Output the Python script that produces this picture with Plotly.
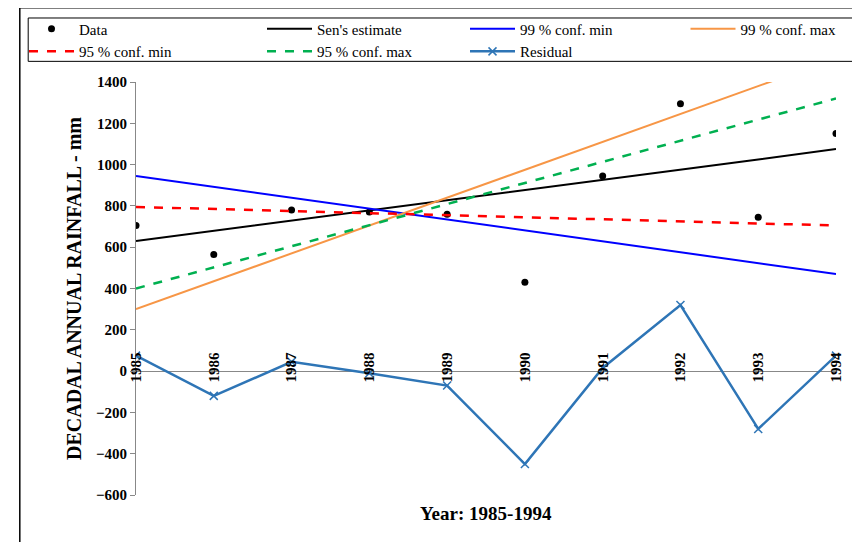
import plotly.graph_objects as go

years = list(range(1985, 1995))
data = [705, 565, 780, 770, 760, 430, 945, 1295, 745, 1150]
sen = [630, 679, 729, 778, 828, 877, 926, 976, 1025, 1075]
c99min = [945, 892, 839, 787, 734, 681, 628, 575, 523, 470]
c99max = [300, 435, 570, 705, 840, 975, 1110, 1245, 1380, 1515]
c95min = [795, 785, 775, 765, 755, 745, 735, 725, 715, 705]
c95max = [400, 502, 604, 707, 809, 911, 1013, 1116, 1218, 1320]
resid = [75, -120, 45, -10, -70, -450, 15, 320, -280, 75]

fig = go.Figure()
fig.add_trace(go.Scatter(x=years, y=data, mode="markers", name="Data", legend="legend",
                         marker=dict(color="black", size=7)))
fig.add_trace(go.Scatter(x=years, y=sen, mode="lines", name="Sen's estimate", legend="legend2",
                         line=dict(color="black", width=2)))
fig.add_trace(go.Scatter(x=years, y=c99min, mode="lines", name="99 % conf. min", legend="legend3",
                         line=dict(color="#0000ff", width=2)))
fig.add_trace(go.Scatter(x=years, y=c99max, mode="lines", name="99 % conf. max", legend="legend4",
                         line=dict(color="#f79646", width=2)))
fig.add_trace(go.Scatter(x=years, y=c95min, mode="lines", name="95 % conf. min", legend="legend",
                         line=dict(color="#ff0000", width=2.5, dash="dash")))
fig.add_trace(go.Scatter(x=years, y=c95max, mode="lines", name="95 % conf. max", legend="legend2",
                         line=dict(color="#00b050", width=2.5, dash="dash")))
fig.add_trace(go.Scatter(x=years, y=resid, mode="lines+markers", name="Residual", legend="legend3",
                         line=dict(color="#2e75b6", width=2.5),
                         marker=dict(symbol="x-thin", size=8, color="#2e75b6",
                                     line=dict(width=1.5, color="#2e75b6"))))

font = dict(family="Liberation Serif, Times New Roman, serif", color="black")

def leg(x):
    return dict(orientation="v", x=x, y=1.168, xanchor="left", yanchor="top",
                bgcolor="rgba(0,0,0,0)", borderwidth=0, tracegroupgap=0,
                itemwidth=45, traceorder="normal",
                font=dict(size=15, **font))

fig.update_layout(
    width=860, height=542, plot_bgcolor="white", paper_bgcolor="white",
    margin=dict(l=128, r=32, t=74, b=55, autoexpand=False),
    font=dict(size=15, **font),
    showlegend=True,
    legend=leg(-0.16), legend2=leg(0.18), legend3=leg(0.47), legend4=leg(0.785),
    xaxis=dict(range=[1985, 1994], tickvals=years, tickangle=-90,
               anchor="free", position=0.355, showgrid=False, zeroline=False,
               showline=False, ticks="",
               tickfont=dict(size=15, family=font["family"], color="black", weight="bold")),
    yaxis=dict(range=[-600, 1400], dtick=200, showgrid=False, zeroline=True,
               zerolinecolor="#888", zerolinewidth=1, showline=True, linecolor="#888",
               ticks="outside", tickcolor="#888",
               tickfont=dict(size=15, family=font["family"], color="black", weight="bold"),
               title=dict(text="DECADAL ANNUAL RAINFALL - mm", standoff=8,
                          font=dict(size=20, family=font["family"], color="black", weight="bold"))),
    annotations=[dict(text="<b>Year: 1985-1994</b>", xref="paper", yref="paper",
                      x=0.5, y=-0.015, showarrow=False, yanchor="top",
                      font=dict(size=19, **font))],
    shapes=[dict(type="rect", xref="paper", yref="paper", x0=-0.154, x1=1.029,
                 y0=1.05, y1=1.155, line=dict(color="black", width=1)),
            dict(type="line", xref="paper", yref="paper", x0=-0.166, x1=-0.166,
                 y0=-0.2, y1=1.18, line=dict(color="black", width=1.5)),
            dict(type="line", xref="paper", yref="paper", x0=-0.166, x1=1.1,
                 y0=1.18, y1=1.18, line=dict(color="black", width=1.5))],
)
fig.write_html("out.html")
